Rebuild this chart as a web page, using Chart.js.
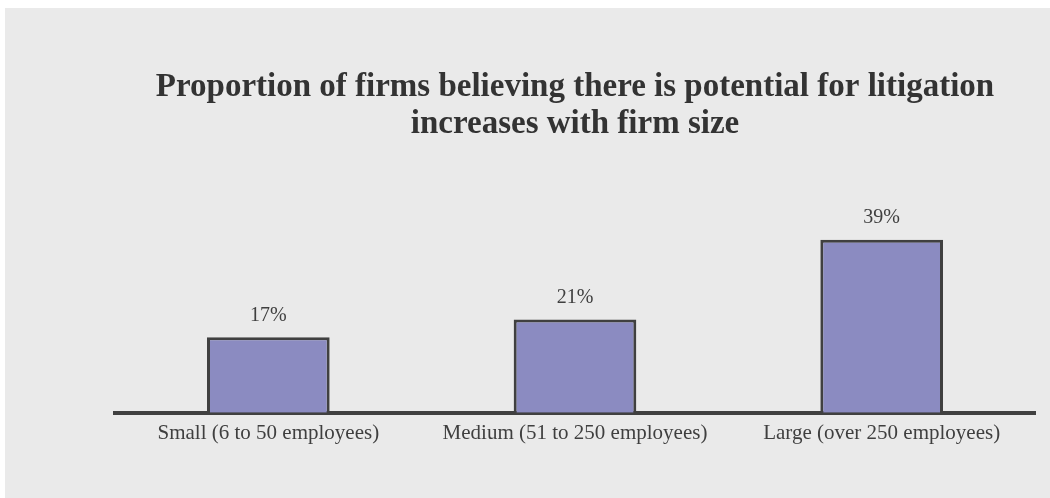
<!DOCTYPE html>
<html>
<head>
<meta charset="utf-8">
<script src="https://cdn.jsdelivr.net/npm/chart.js@4"></script>
<style>
    html, body { margin: 0; padding: 0; background: #ffffff; }
    #panel { position: absolute; left: 5px; top: 8px; width: 1045px; height: 490px; background: #eaeaea; }
</style>
</head>
<body>
<div id="panel"><canvas id="litigationChart"></canvas></div>
<script>
        const categories = ['Small (6 to 50 employees)', 'Medium (51 to 250 employees)', 'Large (over 250 employees)'];
        const shareValues = [17, 21, 39];
        const titleLines = ['Proportion of firms believing there is potential for litigation', 'increases with firm size'];

        const serif = "'Liberation Serif', 'Times New Roman', serif";
        const inkColor = '#3f3f3f';

        // writes the percentage above each bar
        const valueLabels = {
            id: 'valueLabels',
            afterDatasetsDraw(chart) {
                const ctx = chart.ctx;
                const meta = chart.getDatasetMeta(0);
                ctx.save();
                ctx.font = '20px ' + serif;
                ctx.fillStyle = inkColor;
                ctx.textAlign = 'center';
                ctx.textBaseline = 'middle';
                meta.data.forEach((bar, i) => {
                    ctx.fillText(shareValues[i] + '%', bar.x, bar.y - 22);
                });
                ctx.restore();
            }
        };

        const ctx = document.getElementById('litigationChart').getContext('2d');
        const litigationChart = new Chart(ctx, {
            type: 'bar',
            data: {
                labels: categories,
                datasets: [{
                    data: shareValues,
                    backgroundColor: '#8b8bc1',
                    borderColor: '#404040',
                    borderWidth: 3,
                    borderSkipped: 'bottom',
                    categoryPercentage: 1,
                    barPercentage: 0.4
                }]
            },
            options: {
                responsive: true,
                maintainAspectRatio: false,
                animation: false,
                layout: { padding: { left: 110, right: 15, bottom: 52, top: 0 } },
                scales: {
                    y: { display: false, min: 0, max: 50 },
                    x: {
                        grid: { display: false },
                        border: { display: true, color: '#404040', width: 4 },
                        ticks: { color: inkColor, font: { family: serif, size: 21 }, padding: 0, maxRotation: 0 }
                    }
                },
                plugins: {
                    legend: { display: false },
                    tooltip: { enabled: false },
                    title: {
                        display: true,
                        text: titleLines,
                        color: '#333333',
                        font: { family: serif, size: 33, weight: 'bold', lineHeight: 1.12 },
                        padding: { top: 61, bottom: 48 }
                    }
                }
            },
            plugins: [valueLabels]
        });
</script>
</body>
</html>
